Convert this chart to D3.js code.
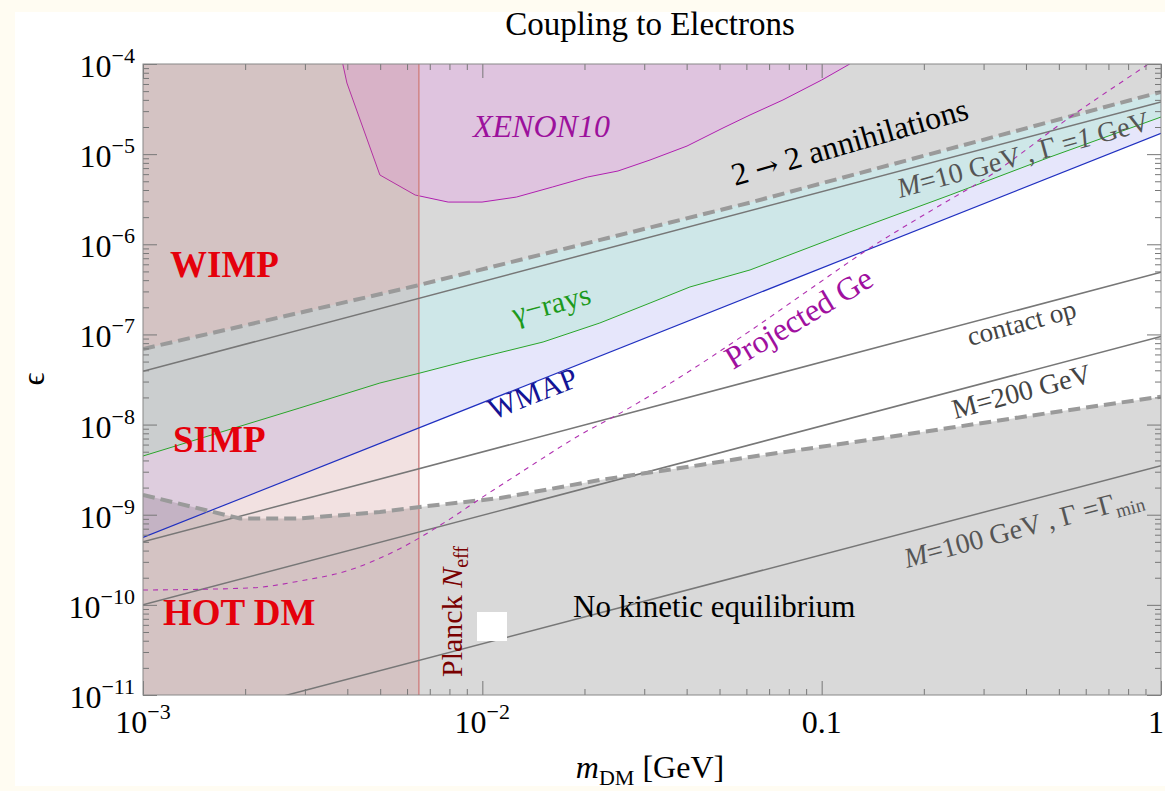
<!DOCTYPE html>
<html>
<head>
<meta charset="utf-8">
<script src="https://cdn.jsdelivr.net/npm/d3@7"></script>
<style>
  body { margin: 0; background: #fffcf2; }
  text { font-family: "Liberation Serif", "Times New Roman", serif; }
</style>
</head>
<body>
<div id="chart"></div>
<script>
// ---- data (m_DM in GeV, epsilon) ----
const massRange = [1e-3, 1];
const epsRange = [1e-11, 1e-4];
const planckMass = 6.5e-3;

// boundary of the 2 -> 2 annihilation region (thick dashed, upper)
const annihilation = [[1e-3, 6.9e-8], [6.25e-3, 3.4e-7], [6.15e-2, 2.9e-6], [1, 4.9e-5]];

// boundary of the kinetic equilibrium region (thick dashed, lower)
const kinetic = [
  [1e-3, 1.66e-9], [1.93e-3, 9.1e-10], [2.9e-3, 9.1e-10], [4.99e-3, 1.07e-9],
  [6.55e-3, 1.22e-9], [1.13e-2, 1.53e-9], [2.22e-2, 2.43e-9], [4.39e-2, 3.56e-9],
  [6.15e-2, 4.37e-9], [0.121, 6.3e-9], [0.239, 9.2e-9], [0.471, 1.35e-8], [1, 2.04e-8]
];

// gamma-ray bound (green)
const gammaRays = [
  [1e-3, 4.48e-9], [2.9e-3, 1.53e-8], [4.99e-3, 2.89e-8], [6.55e-3, 3.73e-8],
  [9.2e-3, 5.2e-8], [1.51e-2, 8.24e-8], [2.22e-2, 1.34e-7], [3.12e-2, 2.23e-7],
  [4.09e-2, 3.36e-7], [6.15e-2, 5.19e-7], [0.121, 1.37e-6], [0.239, 3.52e-6],
  [0.471, 9.29e-6], [1, 2.58e-5]
];

// WMAP bound (blue)
const wmap = [[1e-3, 5.6e-10], [1, 1.7e-5]];

// mediator lines (solid gray)
const m10 = [[1e-3, 3.9e-8], [1, 3.8e-5]];
const contactOp = [[1e-3, 5.0e-10], [1, 4.9e-7]];
const m200 = [[1e-3, 1.0e-10], [1, 9.5e-8]];
const m100 = [[1e-3, 3.8e-12], [1, 3.5e-9]];

// projected germanium reach (magenta dashed)
const projectedGe = [
  [1e-3, 1.46e-10], [2.07e-3, 1.54e-10], [2.9e-3, 1.84e-10], [4.07e-3, 2.44e-10],
  [5.71e-3, 4.2e-10], [8.04e-3, 9.0e-10], [9.84e-3, 1.5e-9], [1.29e-2, 2.9e-9],
  [1.94e-2, 7.66e-9], [2.55e-2, 1.34e-8], [3.83e-2, 3.37e-8], [6.03e-2, 1.04e-7],
  [9.44e-2, 3.36e-7], [0.136, 8.65e-7], [0.219, 2.59e-6], [0.299, 5.16e-6],
  [0.551, 2.72e-5], [0.91, 9.75e-5]
];

// XENON10 exclusion boundary
const xenon10 = [
  [3.88e-3, 1e-4], [3.99e-3, 6.15e-5], [4.99e-3, 5.87e-6], [6.34e-3, 3.52e-6],
  [7.93e-3, 2.94e-6], [9.98e-3, 2.94e-6], [1.26e-2, 3.34e-6], [1.61e-2, 4.32e-6],
  [2.04e-2, 5.57e-6], [2.51e-2, 6.5e-6], [3.12e-2, 8.61e-6], [4.01e-2, 1.23e-5],
  [5.12e-2, 1.95e-5], [6.15e-2, 2.72e-5], [7.69e-2, 3.99e-5], [0.1, 6.64e-5], [0.121, 1e-4]
];

// axis ticks
const xMajor = [1e-3, 1e-2, 1e-1, 1];
const xTickLabels = [['10', '\u22123'], ['10', '\u22122'], ['0.1', ''], ['1', '']];
const yMajor = [1e-11, 1e-10, 1e-9, 1e-8, 1e-7, 1e-6, 1e-5, 1e-4];
const yTickLabels = ['\u221211', '\u221210', '\u22129', '\u22128', '\u22127', '\u22126', '\u22125', '\u22124'];

// ---- layout ----
const width = 1165;
const height = 791;
const plot = { left: 143, top: 64, right: 1161, bottom: 695 };

const x = d3.scaleLog().domain(massRange).range([plot.left, plot.right]);
const y = d3.scaleLog().domain(epsRange).range([plot.bottom, plot.top]);

const svg = d3.select('#chart').append('svg')
  .attr('width', width)
  .attr('height', height);

// page frame (cream border, white card)
svg.append('rect').attr('width', width).attr('height', height).attr('fill', '#fffcf2');
svg.append('rect').attr('x', 15).attr('y', 12).attr('width', width - 15).attr('height', 774).attr('fill', '#fff');

svg.append('clipPath').attr('id', 'plotclip')
  .append('rect')
  .attr('x', plot.left).attr('y', plot.top)
  .attr('width', plot.right - plot.left).attr('height', plot.bottom - plot.top);

const g = svg.append('g').attr('clip-path', 'url(#plotclip)');

const line = d3.line().x(d => x(d[0])).y(d => y(d[1]));
const smooth = d3.line().x(d => x(d[0])).y(d => y(d[1])).curve(d3.curveMonotoneX);
const areaDown = d3.area().x(d => x(d[0])).y0(plot.bottom).y1(d => y(d[1]));
const areaUp = d3.area().x(d => x(d[0])).y0(plot.top).y1(d => y(d[1]));

// excluded regions
g.append('path').attr('d', areaDown(kinetic)).attr('fill', '#d9d9d9');
g.append('path').attr('d', areaUp(wmap)).attr('fill', 'rgb(90,90,230)').attr('fill-opacity', 0.15);
g.append('path').attr('d', areaUp(gammaRays)).attr('fill', 'rgb(110,235,160)').attr('fill-opacity', 0.2);
g.append('path').attr('d', areaUp(annihilation)).attr('fill', '#d9d9d9');

g.append('path').attr('d', line(xenon10) + 'Z')
  .attr('fill', 'rgb(230,170,230)').attr('fill-opacity', 0.45);
g.append('path').attr('d', line(xenon10))
  .attr('fill', 'none').attr('stroke', '#b020b0').attr('stroke-width', 1);

// Planck N_eff
g.append('rect')
  .attr('x', x(massRange[0])).attr('y', plot.top)
  .attr('width', x(planckMass) - x(massRange[0])).attr('height', plot.bottom - plot.top)
  .attr('fill', 'rgb(193,112,112)').attr('fill-opacity', 0.21);
g.append('line')
  .attr('x1', x(planckMass)).attr('x2', x(planckMass))
  .attr('y1', plot.top).attr('y2', plot.bottom)
  .attr('stroke', '#d08484').attr('stroke-width', 1.5);

// lines
[m10, contactOp, m200, m100].forEach(d => {
  g.append('path').attr('d', line(d))
    .attr('fill', 'none').attr('stroke', '#777').attr('stroke-width', 1.5);
});
g.append('path').attr('d', line(gammaRays))
  .attr('fill', 'none').attr('stroke', '#2aa52a').attr('stroke-width', 1);
g.append('path').attr('d', line(wmap))
  .attr('fill', 'none').attr('stroke', '#2030c0').attr('stroke-width', 1.2);
[annihilation, kinetic].forEach(d => {
  g.append('path').attr('d', line(d))
    .attr('fill', 'none').attr('stroke', '#9a9a9a')
    .attr('stroke-width', 4).attr('stroke-dasharray', '12,6');
});
g.append('path').attr('d', smooth(projectedGe))
  .attr('fill', 'none').attr('stroke', '#b030b0')
  .attr('stroke-width', 1.1).attr('stroke-dasharray', '5,5');

// stray white legend box
svg.append('rect').attr('x', 477).attr('y', 612).attr('width', 30).attr('height', 29).attr('fill', '#fff');

// ---- annotations ----
function label(txt, px, py, opts) {
  const t = svg.append('text')
    .attr('transform', `translate(${px},${py}) rotate(${opts.angle || 0})`)
    .attr('font-size', opts.size)
    .attr('fill', opts.color || '#000')
    .attr('font-weight', opts.bold ? 'bold' : null)
    .attr('font-style', opts.italic ? 'italic' : null);
  if (typeof txt === 'string') {
    t.text(txt);
  } else {
    txt.forEach(p => {
      t.append('tspan')
        .attr('font-style', p.italic ? 'italic' : null)
        .attr('font-size', p.size || null)
        .attr('font-family', p.family || null)
        .attr('dy', p.dy || null)
        .text(p.t);
    });
  }
  return t;
}

const red = '#e5000b';
label('WIMP', 170, 277, { size: 37, bold: true, color: red });
label('SIMP', 173, 452, { size: 37, bold: true, color: red });
label('HOT DM', 163, 625, { size: 37, bold: true, color: red });
label('XENON10', 473, 137, { size: 32, italic: true, color: '#9c119c' });
label([{ t: '2 ' }, { t: '\u2192', family: 'DejaVu Serif', size: 28 }, { t: ' 2  annihilations' }],
  735, 186, { size: 32, angle: -16, color: '#000' });
label([{ t: 'M', italic: true }, { t: '=10 GeV , ' }, { t: '\u0393' }, { t: ' =' }, { t: '1', italic: true }, { t: ' GeV' }],
  900, 198, { size: 28, angle: -15.3, color: '#555' });
label('contact op', 970, 346, { size: 27, angle: -15, color: '#444' });
label('M=200 GeV', 955, 419, { size: 28, angle: -15, color: '#444' });
label([{ t: 'M', italic: true }, { t: '=100 GeV , \u0393 =\u0393' }, { t: 'min', size: 19, dy: 6 }],
  907, 568, { size: 28, angle: -15, color: '#555' });
label('\u03b3\u2212rays', 515, 324, { size: 30, angle: -15, color: '#1c9a1c' });
label('WMAP', 493, 420, { size: 30, angle: -21.5, color: '#141496' });
label('Projected Ge', 733, 370, { size: 32, angle: -31, color: '#a0109f' });
label([{ t: 'Planck ' }, { t: 'N', italic: true }, { t: 'eff', size: 20, dy: 6 }],
  462, 677, { size: 30, angle: -90, color: '#7a0000' });
label('No kinetic equilibrium', 573, 617, { size: 31, color: '#000' });

// title and axis titles
svg.append('text').attr('x', 650).attr('y', 35).attr('text-anchor', 'middle')
  .attr('font-size', 33).text('Coupling to Electrons');
const xt = svg.append('text').attr('x', 650).attr('y', 778).attr('text-anchor', 'middle').attr('font-size', 32);
xt.append('tspan').attr('font-style', 'italic').text('m');
xt.append('tspan').attr('font-size', 22).attr('dy', 7).text('DM');
xt.append('tspan').attr('dy', -7).text(' [GeV]');
svg.append('text').attr('transform', 'translate(44,379) rotate(-90)')
  .attr('text-anchor', 'middle').attr('font-size', 32).text('\u03f5');

// ---- axes: inward ticks on all four sides ----
const xMinor = x.ticks().filter(v => !xMajor.some(m => Math.abs(m - v) / m < 1e-6));
const yMinor = y.ticks().filter(v => !yMajor.some(m => Math.abs(m - v) / m < 1e-6));

function ticks(axis, values, size, transform) {
  const a = svg.append('g').attr('transform', transform)
    .call(axis.tickValues(values).tickSize(size).tickFormat(''));
  a.select('.domain').remove();
  a.selectAll('line').attr('stroke', '#777');
}
ticks(d3.axisBottom(x), xMajor, -14, `translate(0,${plot.bottom})`);
ticks(d3.axisBottom(x), xMinor, -6, `translate(0,${plot.bottom})`);
ticks(d3.axisTop(x), xMajor, -14, `translate(0,${plot.top})`);
ticks(d3.axisTop(x), xMinor, -6, `translate(0,${plot.top})`);
ticks(d3.axisLeft(y), yMajor, -14, `translate(${plot.left},0)`);
ticks(d3.axisLeft(y), yMinor, -6, `translate(${plot.left},0)`);
ticks(d3.axisRight(y), yMajor, -14, `translate(${plot.right},0)`);
ticks(d3.axisRight(y), yMinor, -6, `translate(${plot.right},0)`);

svg.append('rect')
  .attr('x', plot.left).attr('y', plot.top)
  .attr('width', plot.right - plot.left).attr('height', plot.bottom - plot.top)
  .attr('fill', 'none').attr('stroke', '#888').attr('stroke-width', 1);

// tick labels
xMajor.forEach((v, i) => {
  const last = i === xMajor.length - 1;
  const t = svg.append('text').attr('x', last ? width - 1 : x(v)).attr('y', 733)
    .attr('text-anchor', last ? 'end' : 'middle').attr('font-size', 32);
  t.append('tspan').text(xTickLabels[i][0]);
  if (xTickLabels[i][1]) t.append('tspan').attr('font-size', 22).attr('dy', -14).text(xTickLabels[i][1]);
});
yMajor.forEach((v, i) => {
  const t = svg.append('text').attr('x', 135).attr('y', y(v) + 13)
    .attr('text-anchor', 'end').attr('font-size', 32);
  t.append('tspan').text('10');
  t.append('tspan').attr('font-size', 22).attr('dy', -14).text(yTickLabels[i]);
});
</script>
</body>
</html>
